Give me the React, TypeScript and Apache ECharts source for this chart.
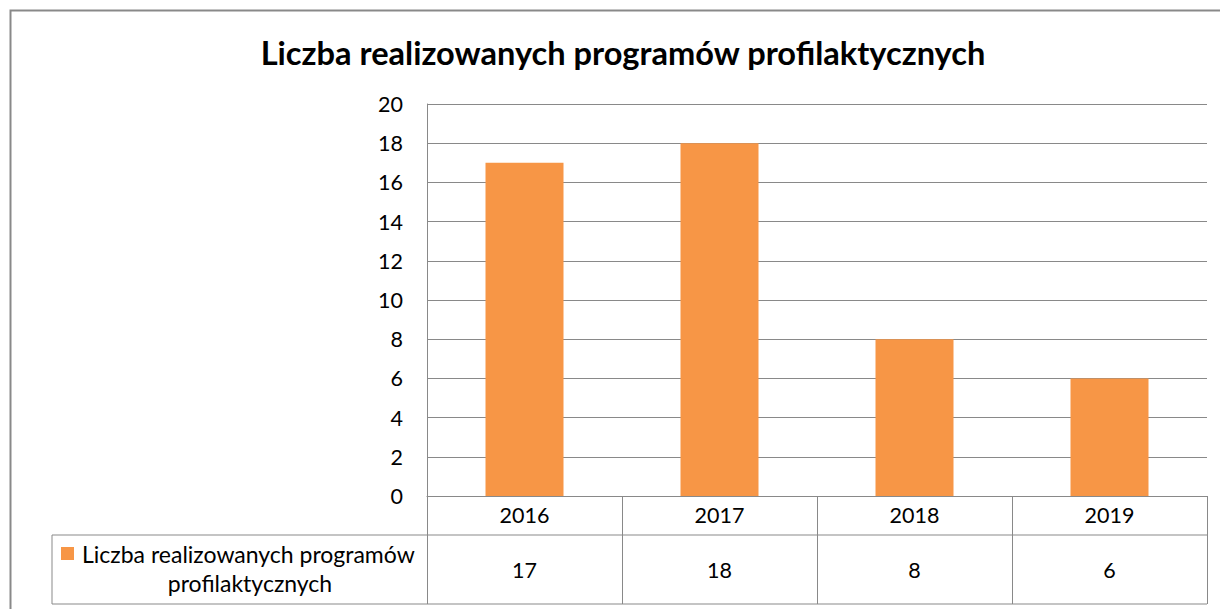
import React, { useEffect, useRef } from "react";
import * as echarts from "echarts";

const title = "Liczba realizowanych programów profilaktycznych";
const categories = ["2016", "2017", "2018", "2019"];
const values = [17, 18, 8, 6];
const seriesNameLines = ["Liczba realizowanych programów", "profilaktycznych"];

const FONT = "Lato, 'Liberation Sans', sans-serif";
const GRAY = "#898989";
const ORANGE = "#F79646";

export default function App() {
  const ref = useRef<HTMLDivElement>(null);
  useEffect(() => {
    const el = ref.current!;
    const chart = echarts.init(el, null, { renderer: "svg" });
    const gridLeft = 427;
    const gridRight = 1207;
    const axisBottom = 496;
    const row1Bottom = 535;
    const row2Bottom = 604;
    const labelSize = 21.5;
    chart.setOption({
      animation: false,
      backgroundColor: "#fff",
      title: {
        text: title,
        left: 618,
        textAlign: "center",
        top: 31,
        textStyle: { fontFamily: FONT, fontWeight: "bold", fontSize: 32.6, color: "#000" },
      },
      grid: { left: gridLeft, right: 1220 - gridRight, top: 104, bottom: 609 - axisBottom },
      xAxis: {
        type: "category",
        data: categories,
        axisLine: { lineStyle: { color: GRAY, width: 1 } },
        axisTick: { show: true, length: row2Bottom - axisBottom, lineStyle: { color: GRAY } },
        axisLabel: { fontFamily: FONT, fontSize: labelSize, color: "#000", margin: 8 },
      },
      yAxis: {
        type: "value",
        min: 0,
        max: 20,
        interval: 2,
        axisLine: { show: true, lineStyle: { color: GRAY } },
        axisTick: { show: false },
        splitLine: { lineStyle: { color: GRAY } },
        axisLabel: { fontFamily: FONT, fontSize: labelSize, color: "#000", margin: 24 },
      },
      series: [
        {
          type: "bar",
          name: seriesNameLines.join(" "),
          data: values,
          barWidth: "40%",
          itemStyle: { color: ORANGE },
        },
      ],
    });
    const lineStyle = { stroke: GRAY, lineWidth: 1 };
    const valueTexts = values.map((v, i) => {
      const x = chart.convertToPixel({ xAxisIndex: 0 }, categories[i]) as number;
      return {
        type: "text",
        x,
        y: (row1Bottom + row2Bottom) / 2,
        style: {
          text: String(v),
          fontFamily: FONT,
          fontSize: labelSize,
          fill: "#000",
          align: "center",
          verticalAlign: "middle",
        },
      };
    });
    chart.setOption({
      graphic: [
        {
          type: "rect",
          shape: { x: 10.5, y: 10.5, width: 1300, height: 700 },
          style: { fill: "none", stroke: GRAY, lineWidth: 2 },
        },
        { type: "line", shape: { x1: 52, y1: row1Bottom, x2: gridRight, y2: row1Bottom }, style: lineStyle },
        { type: "line", shape: { x1: 52, y1: row2Bottom, x2: gridRight, y2: row2Bottom }, style: lineStyle },
        { type: "line", shape: { x1: 52, y1: row1Bottom, x2: 52, y2: row2Bottom }, style: lineStyle },
        { type: "rect", shape: { x: 61, y: 547, width: 13, height: 13 }, style: { fill: ORANGE } },
        {
          type: "text",
          x: 82,
          y: 554,
          style: {
            text: seriesNameLines[0],
            fontFamily: FONT,
            fontSize: 23,
            fill: "#000",
            align: "left",
            verticalAlign: "middle",
          },
        },
        {
          type: "text",
          x: 250,
          y: 583,
          style: {
            text: seriesNameLines[1],
            fontFamily: FONT,
            fontSize: 23,
            fill: "#000",
            align: "center",
            verticalAlign: "middle",
          },
        },
        ...valueTexts,
      ],
    });
    return () => chart.dispose();
  }, []);
  return (
    <div
      ref={ref}
      style={{ position: "fixed", left: 0, top: 0, width: 1220, height: 609, background: "#fff" }}
    />
  );
}
